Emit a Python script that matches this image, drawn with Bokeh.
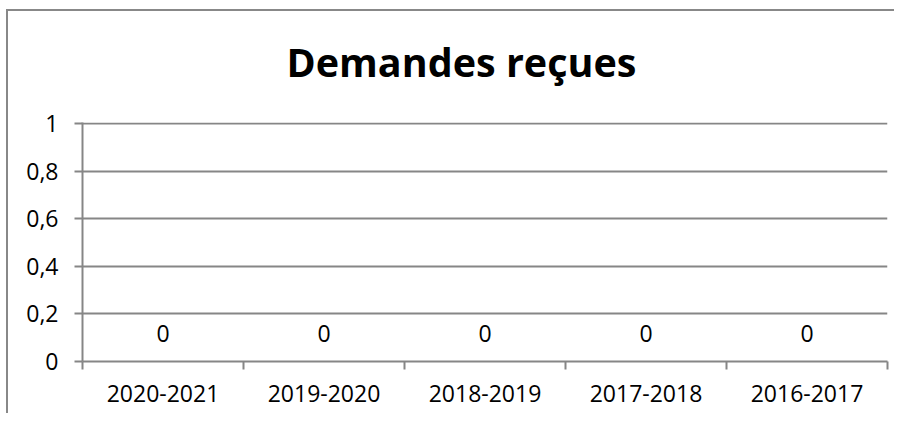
from bokeh.plotting import figure
from bokeh.models import (Range1d, FixedTicker, CustomJSTickFormatter, LinearAxis,
                          ColumnDataSource, Grid, Title)
from bokeh.embed import file_html
from bokeh.resources import INLINE
from bokeh.core.properties import value

# ---- data ----
title_text = "Demandes reçues"
categories = ["2020-2021", "2019-2020", "2018-2019", "2017-2018", "2016-2017"]
values = [0, 0, 0, 0, 0]
y_ticks = [0, 0.2, 0.4, 0.6, 0.8, 1]
y_tick_labels = ["0", "0,2", "0,4", "0,6", "0,8", "1"]

FONT = "Open Sans"
GRID = "#868686"
FS = "23px"

W, H = 888, 404
p = figure(width=W, height=H, output_backend="svg", toolbar_location=None,
           x_range=Range1d(0, len(categories)), y_range=Range1d(0, 1.005),
           min_border_left=74, min_border_right=9, min_border_top=111,
           min_border_bottom=54, x_axis_type=None, y_axis_type=None)
p.title.visible = False
# chart-area border (left and top edges; the rest lies beyond the window)
p.styles = {"margin-left": "8px", "margin-top": "11px",
            "box-shadow": "-2px -2px 0 0 #888888"}
p.outline_line_color = None
p.background_fill_color = "white"
p.border_fill_color = "white"

# spacer between the title and the plot area, then the title itself
p.add_layout(Title(text=" ", text_font_size="1px", standoff=26), "above")
p.add_layout(Title(text=title_text, text_font=FONT, text_font_size="39.5px",
                   text_font_style="bold", text_color="black", align="left",
                   offset=204, standoff=10), "above")

centers = [i + 0.5 for i in range(len(categories))]
src = ColumnDataSource(dict(x=centers, top=values, cat=categories,
                            lbl=[str(v) for v in values]))

# x axis: labels at centers, tick marks at category boundaries (minor ticks)
xaxis = LinearAxis(
    ticker=FixedTicker(ticks=centers, minor_ticks=list(range(len(categories) + 1))),
    formatter=CustomJSTickFormatter(args=dict(catlabels=categories),
                                    code="const i = Math.floor(tick); return (i >= 0 && i < catlabels.length) ? catlabels[i] : '';"),
)
xaxis.axis_line_color = GRID
xaxis.axis_line_width = 2
xaxis.major_tick_line_color = None
xaxis.major_tick_out = 0
xaxis.major_tick_in = 0
xaxis.minor_tick_line_color = GRID
xaxis.minor_tick_line_width = 2
xaxis.minor_tick_out = 8
xaxis.minor_tick_in = 0
xaxis.major_label_text_font = FONT
xaxis.major_label_text_font_size = FS
xaxis.major_label_text_color = "black"
xaxis.major_label_standoff = 15
p.add_layout(xaxis, "below")

yticker = FixedTicker(ticks=y_ticks, minor_ticks=[])
yaxis = LinearAxis(
    ticker=yticker,
    formatter=CustomJSTickFormatter(args=dict(yvals=y_ticks, ylabels=y_tick_labels),
                                    code="const i = yvals.findIndex(t => Math.abs(t - tick) < 1e-9); return i >= 0 ? ylabels[i] : '';"),
)
yaxis.axis_line_color = GRID
yaxis.axis_line_width = 2
yaxis.major_tick_line_color = GRID
yaxis.major_tick_line_width = 2
yaxis.major_tick_out = 8
yaxis.major_tick_in = 0
yaxis.minor_tick_line_color = None
yaxis.major_label_text_font = FONT
yaxis.major_label_text_font_size = FS
yaxis.major_label_text_color = "black"
yaxis.major_label_standoff = 16
p.add_layout(yaxis, "left")

p.add_layout(Grid(dimension=1, ticker=yticker, grid_line_color=GRID,
                  grid_line_width=2))

p.vbar(x="x", top="top", bottom=0, width=0.6, source=src,
       fill_color="#4F81BD", line_color=None)
p.text(x="x", y="top", text="lbl", source=src, text_align="center",
       text_baseline="middle", y_offset=-28, text_font=value(FONT),
       text_font_size=FS, text_color="black")

open("out.html", "w").write(file_html(p, INLINE))
